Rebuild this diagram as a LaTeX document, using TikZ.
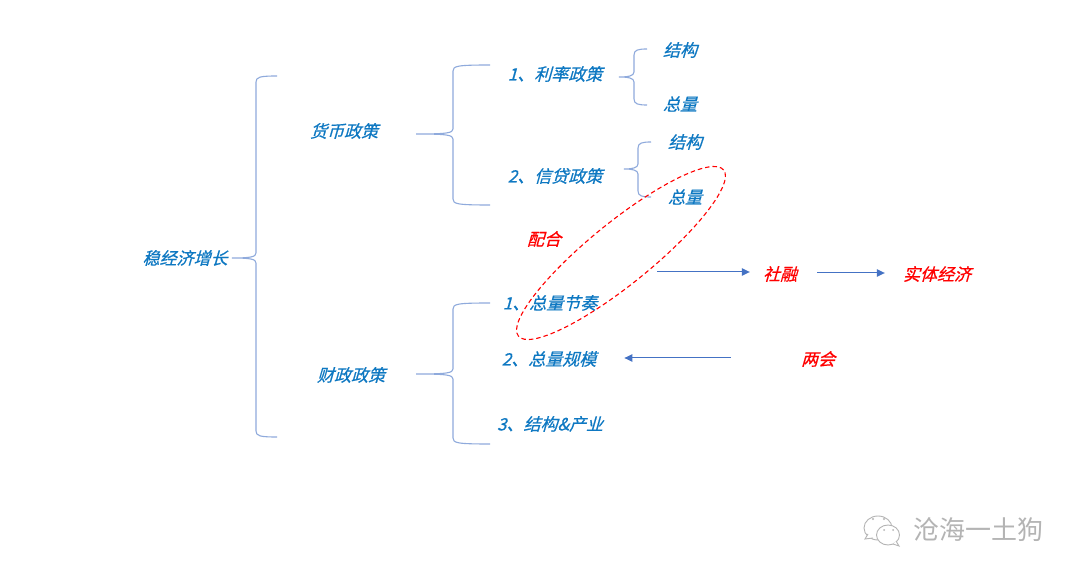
\documentclass[tikz,border=0pt]{standalone}
\usepackage{fontspec}
\usetikzlibrary{shapes.geometric,arrows.meta}
\newfontfamily\cjkslant[FakeSlant=0.28,FakeBold=0.6]{Noto Sans CJK SC}
\newfontfamily\cjkplain{Noto Sans CJK SC}
\definecolor{labelblue}{HTML}{0E78C2}
\definecolor{bracecol}{HTML}{8FAADC}
\definecolor{arrowcol}{HTML}{4472C4}
\definecolor{markgray}{HTML}{B4B4B4}
\tikzset{
  lab/.style={font=\cjkslant\fontsize{17}{17}\selectfont,text=labelblue,inner sep=0pt,anchor=center},
  redlab/.style={lab,text=red},
  bracepath/.style={draw=bracecol,line width=1.1pt},
  flowarrow/.style={draw=arrowcol,line width=1pt,-{Triangle[length=8pt,width=7.5pt]}},
  ringmark/.style={draw=red,line width=1.1pt,dash pattern=on 4.5pt off 3pt,ellipse,inner sep=0pt,minimum width=264pt,minimum height=62pt},
  marktext/.style={font=\cjkplain\fontsize{26}{26}\selectfont,text=markgray,inner sep=0pt},
  bubble/.style={draw=markgray,line width=0.9pt,fill=white}
}
% tail x, spine x, end x, top y, middle y, bottom y
\newcommand{\bracket}[6]{%
  \coordinate (tail) at (#1,#5);
  \coordinate (topend) at (#3,#4);
  \coordinate (botend) at (#3,#6);
  \path[bracepath] (topend) .. controls (#2+4,#4) and (#2,#4+1) .. (#2,#4+6)
    -- (#2,#5-5) .. controls (#2,#5-1) and (#2-6,#5) .. (tail)
    .. controls (#2-6,#5) and (#2,#5+1) .. (#2,#5+5)
    -- (#2,#6-6) .. controls (#2,#6-1) and (#2+4,#6) .. (botend);
}
\begin{document}
\begin{tikzpicture}[x=1pt,y=-1pt]
\useasboundingbox[fill=white] (0,0) rectangle (1080,577);

\bracket{232}{256}{277}{76}{258}{437}
\bracket{416}{453}{490}{65}{134}{205}
\bracket{619}{634}{647}{49}{77}{105}
\bracket{624}{638}{651}{142}{169}{197}
\bracket{416}{453}{490}{303}{374}{444}

\node[lab] (root) at (185,258) {稳经济增长};
\node[lab] (money) at (344,131) {货币政策};
\node[lab] (fiscal) at (351,375) {财政政策};
\node[lab] (rate) at (555,74) {1、利率政策};
\node[lab] (credit) at (555,176) {2、信贷政策};
\node[lab] (s1) at (680,50) {结构};
\node[lab] (t1) at (680,104) {总量};
\node[lab] (s2) at (685,142) {结构};
\node[lab] (t2) at (685,197) {总量};
\node[redlab] (coop) at (544,239) {配合};
\node[lab] (rhythm) at (550,303) {1、总量节奏};
\node[lab] (scale) at (549,359) {2、总量规模};
\node[lab] (ind) at (550,424) {3、结构\&产业};
\node[redlab] (social) at (780,274) {社融};
\node[redlab] (real) at (937,274) {实体经济};
\node[redlab] (lh) at (818,359) {两会};

\node[ringmark,rotate=39] (ring) at (621,253) {};

\coordinate (flowstart) at (657,272);
\draw[flowarrow,shorten >=13pt] (flowstart) -- (social.west |- flowstart);
\draw[flowarrow,shorten <=20pt,shorten >=18pt] (social.east |- 0,273) -- (real.west |- 0,273);
\draw[flowarrow,shorten <=70pt,shorten >=28pt] (lh.west |- 0,358) -- (scale.east |- 0,358);

% watermark
\node[marktext] (mark) at (978,530) {沧海一土狗};
\draw[bubble] (878,528) ellipse (14 and 12);
\draw[bubble] (868,534) -- (865,539) -- (873,538);
\draw[bubble] (888,535) ellipse (11.5 and 10);
\draw[bubble] (893,544) -- (899,546) -- (896,541);
\fill[markgray] (873,519) circle (1.1) (884,519) circle (1.1) (884,530) circle (1) (893,530) circle (1);
\end{tikzpicture}
\end{document}
